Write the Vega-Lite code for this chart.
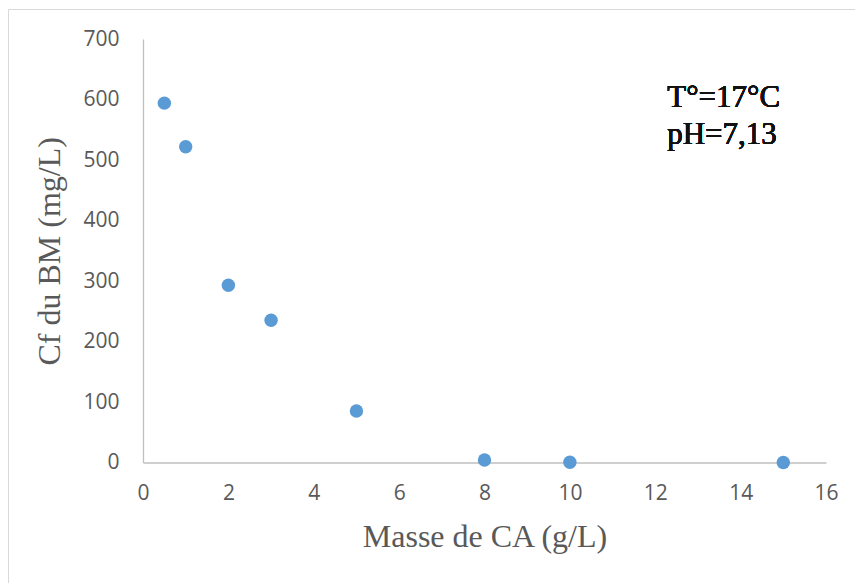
{
  "$schema": "https://vega.github.io/schema/vega-lite/v6.json",
  "autosize": "none",
  "width": 900,
  "height": 620,
  "padding": {"left": 8, "top": 9, "right": 0, "bottom": 0},
  "background": "white",
  "config": {
    "view": {"stroke": "#d9d9d9", "strokeWidth": 1},
    "axis": {
      "grid": false,
      "ticks": false,
      "labelFlush": false,
      "domainColor": "#bfbfbf",
      "domainWidth": 1.3,
      "labelFont": "Open Sans",
      "labelFontSize": 21,
      "labelColor": "#595959",
      "titleFont": "Liberation Serif",
      "titleFontSize": 32,
      "titleFontWeight": "normal",
      "titleColor": "#595959"
    }
  },
  "data": {
    "values": [
      {"masse": 0.5, "cf": 594},
      {"masse": 1, "cf": 522},
      {"masse": 2, "cf": 293},
      {"masse": 3, "cf": 235},
      {"masse": 5, "cf": 85},
      {"masse": 8, "cf": 4},
      {"masse": 10, "cf": 0.5},
      {"masse": 15, "cf": 0}
    ]
  },
  "layer": [
    {
      "mark": {"type": "point", "filled": true, "shape": "circle", "size": 180, "color": "#5b9bd5", "opacity": 1},
      "encoding": {
        "x": {
          "field": "masse",
          "type": "quantitative",
          "scale": {"domain": [0, 16], "range": [135, 818], "nice": false, "zero": true},
          "axis": {
            "title": "Masse de CA (g/L)",
            "values": [0, 2, 4, 6, 8, 10, 12, 14, 16],
            "format": "d",
            "offset": -166.5,
            "labelPadding": 20,
            "titlePadding": 18
          }
        },
        "y": {
          "field": "cf",
          "type": "quantitative",
          "scale": {"domain": [0, 700], "range": [453.5, 30], "nice": false},
          "axis": {
            "title": "Cf du BM (mg/L)",
            "values": [0, 100, 200, 300, 400, 500, 600, 700],
            "format": "d",
            "offset": -135,
            "labelPadding": 24,
            "titlePadding": 16
          }
        }
      }
    },
    {
      "mark": {
        "type": "text",
        "text": ["T°=17°C", "pH=7,13"],
        "font": "Liberation Serif",
        "fontSize": 31,
        "fontWeight": 400,
        "lineHeight": 37,
        "align": "left",
        "baseline": "alphabetic",
        "fill": "#111111",
        "strokeWidth": 0
      },
      "encoding": {
        "x": {"datum": 12.28},
        "y": {"datum": 587.5}
      }
    }
  ]
}
